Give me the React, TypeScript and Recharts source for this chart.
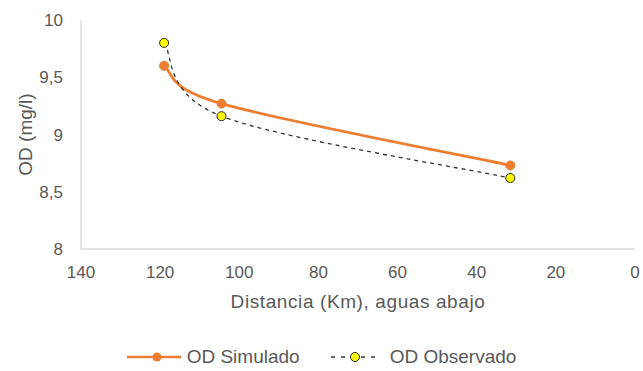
import React from 'react';
import { LineChart, Line, XAxis, YAxis, Legend } from 'recharts';

// Distance downstream (km) of each sampling station
const distanciaKm = [119, 104.5, 31.5];
// Dissolved oxygen, simulated vs. observed (mg/l)
const odSimulado = [9.6, 9.27, 8.73];
const odObservado = [9.8, 9.16, 8.62];

const xTicks = [0, 20, 40, 60, 80, 100, 120, 140];
const yTicks = [8, 8.5, 9, 9.5, 10];

const data = distanciaKm.map((d, i) => ({
  distancia: d,
  simulado: odSimulado[i],
  observado: odObservado[i],
}));

const ORANGE = '#ED7D31';
const TEXT = '#595959';
const AXIS = '#D9D9D9';
const FONT = '"Liberation Sans", Arial, sans-serif';

const fmtComma = (v: number) => String(v).replace('.', ',');

// Smoothed line (Catmull-Rom style Bezier, tangents = (next - prev) / 6)
const smoothCurve = (context: any) => {
  let pts: [number, number][] = [];
  return {
    areaStart() {},
    areaEnd() {},
    lineStart() {
      pts = [];
    },
    point(x: number, y: number) {
      pts.push([+x, +y]);
    },
    lineEnd() {
      if (!pts.length) return;
      context.moveTo(pts[0][0], pts[0][1]);
      const n = pts.length;
      for (let i = 0; i < n - 1; i++) {
        const p0 = pts[Math.max(i - 1, 0)];
        const p1 = pts[i];
        const p2 = pts[i + 1];
        const p3 = pts[Math.min(i + 2, n - 1)];
        const c1x = p1[0] + (p2[0] - p0[0]) / 6;
        const c1y = p1[1] + (p2[1] - p0[1]) / 6;
        const c2x = p2[0] - (p3[0] - p1[0]) / 6;
        const c2y = p2[1] - (p3[1] - p1[1]) / 6;
        context.bezierCurveTo(c1x, c1y, c2x, c2y, p2[0], p2[1]);
      }
    },
  };
};

const LegendContent = () => (
  <div
    style={{
      display: 'flex',
      justifyContent: 'center',
      alignItems: 'center',
      height: 30,
      fontFamily: FONT,
      fontSize: 19,
      color: TEXT,
    }}
  >
    <svg width={54} height={20} style={{ marginRight: 6 }}>
      <line x1={0} y1={10} x2={54} y2={10} stroke={ORANGE} strokeWidth={2.5} />
      <circle cx={30} cy={10} r={4.5} fill={ORANGE} />
    </svg>
    <span>OD Simulado</span>
    <svg width={52} height={20} style={{ marginLeft: 30, marginRight: 8 }}>
      <line x1={1} y1={10} x2={51} y2={10} stroke="#333333" strokeWidth={1.3} strokeDasharray="4 6" />
      <circle cx={25} cy={10} r={4.5} fill="#FFFF00" stroke="#262626" strokeWidth={1} />
    </svg>
    <span>OD Observado</span>
  </div>
);

export default function App() {
  return (
    <div style={{ position: 'absolute', left: 0, top: 0, background: '#fff' }}>
      <LineChart
        width={643}
        height={371}
        data={data}
        margin={{ top: 20, right: 8, left: 0, bottom: 22 }}
      >
        <XAxis
          dataKey="distancia"
          type="number"
          domain={[0, 140]}
          ticks={xTicks}
          reversed
          interval={0}
          tickLine={false}
          tickMargin={11}
          axisLine={{ stroke: AXIS, strokeWidth: 1.3 }}
          tick={{ fill: TEXT, fontSize: 17, fontFamily: FONT }}
          height={70}
          label={(props: any) => {
            const vb = props.viewBox;
            return (
              <text
                x={vb.x + vb.width / 2}
                y={vb.y + 59}
                textAnchor="middle"
                fill={TEXT}
                fontSize={19}
                letterSpacing={0.6}
                fontFamily={FONT}
              >
                Distancia (Km), aguas abajo
              </text>
            );
          }}
        />
        <YAxis
          type="number"
          domain={[8, 10]}
          ticks={yTicks}
          interval={0}
          width={81}
          tickLine={false}
          tickMargin={12}
          tickFormatter={fmtComma}
          axisLine={{ stroke: AXIS, strokeWidth: 1.3 }}
          tick={{ fill: TEXT, fontSize: 17, fontFamily: FONT }}
          label={(props: any) => {
            const vb = props.viewBox;
            const cx = 25;
            const cy = vb.y + vb.height / 2;
            return (
              <text
                x={cx}
                y={cy}
                transform={`rotate(-90 ${cx} ${cy})`}
                textAnchor="middle"
                dominantBaseline="central"
                fill={TEXT}
                fontSize={19}
                fontFamily={FONT}
              >
                OD (mg/l)
              </text>
            );
          }}
        />
        <Legend
          verticalAlign="bottom"
          content={<LegendContent />}
          wrapperStyle={{ top: 342, left: 0, width: 643 }}
        />
        <Line
          type={smoothCurve as any}
          dataKey="simulado"
          name="OD Simulado"
          stroke={ORANGE}
          strokeWidth={2.75}
          dot={{ r: 4.5, fill: ORANGE, stroke: ORANGE, strokeWidth: 1 }}
          activeDot={false}
          isAnimationActive={false}
        />
        <Line
          type={smoothCurve as any}
          dataKey="observado"
          name="OD Observado"
          stroke="#333333"
          strokeWidth={1.3}
          strokeDasharray="4 4"
          dot={{ r: 4.5, fill: '#FFFF00', stroke: '#262626', strokeWidth: 1, strokeDasharray: '0' }}
          activeDot={false}
          isAnimationActive={false}
        />
      </LineChart>
    </div>
  );
}
